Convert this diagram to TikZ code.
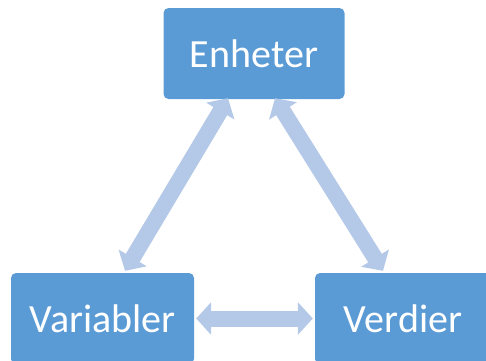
\documentclass[tikz,border=0pt]{standalone}
\usepackage{fontspec}
\setmainfont{Carlito}
\usepackage{xcolor}
\usepackage{tikz}
\usetikzlibrary{arrows.meta}
\definecolor{boxcolor}{RGB}{91, 155, 213}
\definecolor{pilcolor}{RGB}{180, 200, 231}

\begin{document}
\begin{tikzpicture}[x=1pt, y=-1pt,
        boks/.style={fill=boxcolor, rounded corners=5pt, minimum height=91pt,
            text=white, font=\fontsize{40}{48}\selectfont, inner sep=0pt},
        pil/.style={draw=pilcolor, line width=16pt,
            {Triangle[width=32pt,length=15pt]}-{Triangle[width=32pt,length=15pt]}}]
        \useasboundingbox (0,0) rectangle (486,360);
        % tre bokser
        \node[boks, minimum width=181pt] (enheter) at (254,53.5) {Enheter};
        \node[boks, minimum width=183pt] (variabler) at (102.5,318.5) {Variabler};
        \node[boks, minimum width=176pt] (verdier) at (403,318.5) {Verdier};
        % piler mellom boksene
        \draw[pil] ([xshift=-26pt,yshift=1pt]enheter.south) -- ([xshift=22.5pt,yshift=2pt]variabler.north);
        \draw[pil] ([xshift=21pt,yshift=1pt]enheter.south) -- ([xshift=-20pt,yshift=2pt]verdier.north);
        \draw[pil] ([xshift=2pt]variabler.east) -- ([xshift=-2pt]verdier.west);
    \end{tikzpicture}
\end{document}
